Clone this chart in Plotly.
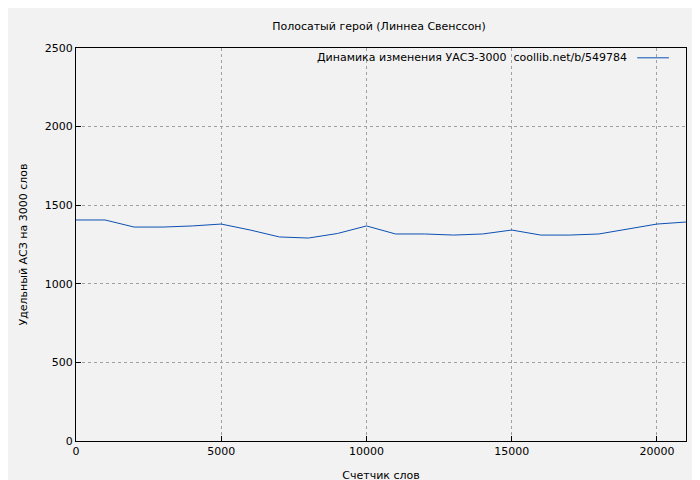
import plotly.graph_objects as go

words = [0, 1000, 2000, 3000, 4000, 5000, 6000, 7000, 8000, 9000, 10000,
         11000, 12000, 13000, 14000, 15000, 16000, 17000, 18000, 19000, 20000, 21000]
uas = [1406, 1406, 1361, 1361, 1368, 1380, 1342, 1298, 1291, 1320, 1368,
       1317, 1317, 1310, 1317, 1342, 1310, 1310, 1317, 1349, 1380, 1393]
series_name = "Динамика изменения УАСЗ-3000  coollib.net/b/549784"

FONT = "DejaVu Sans, Verdana, sans-serif"
LINE = "#0b50b4"

fig = go.Figure(go.Scatter(x=words, y=uas, mode="lines",
                           line=dict(color=LINE, width=1), name=series_name))

axis = dict(showgrid=True, gridcolor="#a0a0a0", griddash="dot", gridwidth=1,
            showline=True, linecolor="black", mirror=True, zeroline=False,
            ticks="inside", ticklen=5, tickcolor="black", automargin=False,
            tickfont=dict(size=11, color="black"))

fig.update_layout(
    width=700, height=480,
    paper_bgcolor="#f2f2f2", plot_bgcolor="#f2f2f2",
    font=dict(family=FONT, size=11, color="black"),
    margin=dict(l=68, r=22, t=40, b=47, autoexpand=False),
    title=dict(text="Полосатый герой (Линнеа Свенссон)", x=0.53, y=0.962,
               xanchor="center", yanchor="middle", font=dict(size=11)),
    showlegend=False,
    xaxis=dict(axis, range=[0, 21000], tickvals=[0, 5000, 10000, 15000, 20000],
               ticktext=["0", "5000", "10000", "15000", "20000"],
               title=dict(text="Счетчик слов", font=dict(size=11), standoff=14)),
    yaxis=dict(axis, range=[0, 2500], tickvals=[0, 500, 1000, 1500, 2000, 2500],
               ticktext=["0", "500", "1000", "1500", "2000", "2500"],
               title=dict(text="Удельный АСЗ на 3000 слов", font=dict(size=11), standoff=14)),
)

# gnuplot-style key: text, then sample line on the right
fig.add_annotation(xref="paper", yref="paper", x=0.906, y=0.975, xanchor="right",
                   yanchor="middle", text=series_name, showarrow=False,
                   font=dict(size=11))
fig.add_shape(type="line", xref="paper", yref="paper", x0=0.92, x1=0.972,
              y0=0.975, y1=0.975, line=dict(color=LINE, width=1))

fig.write_html("out.html")
